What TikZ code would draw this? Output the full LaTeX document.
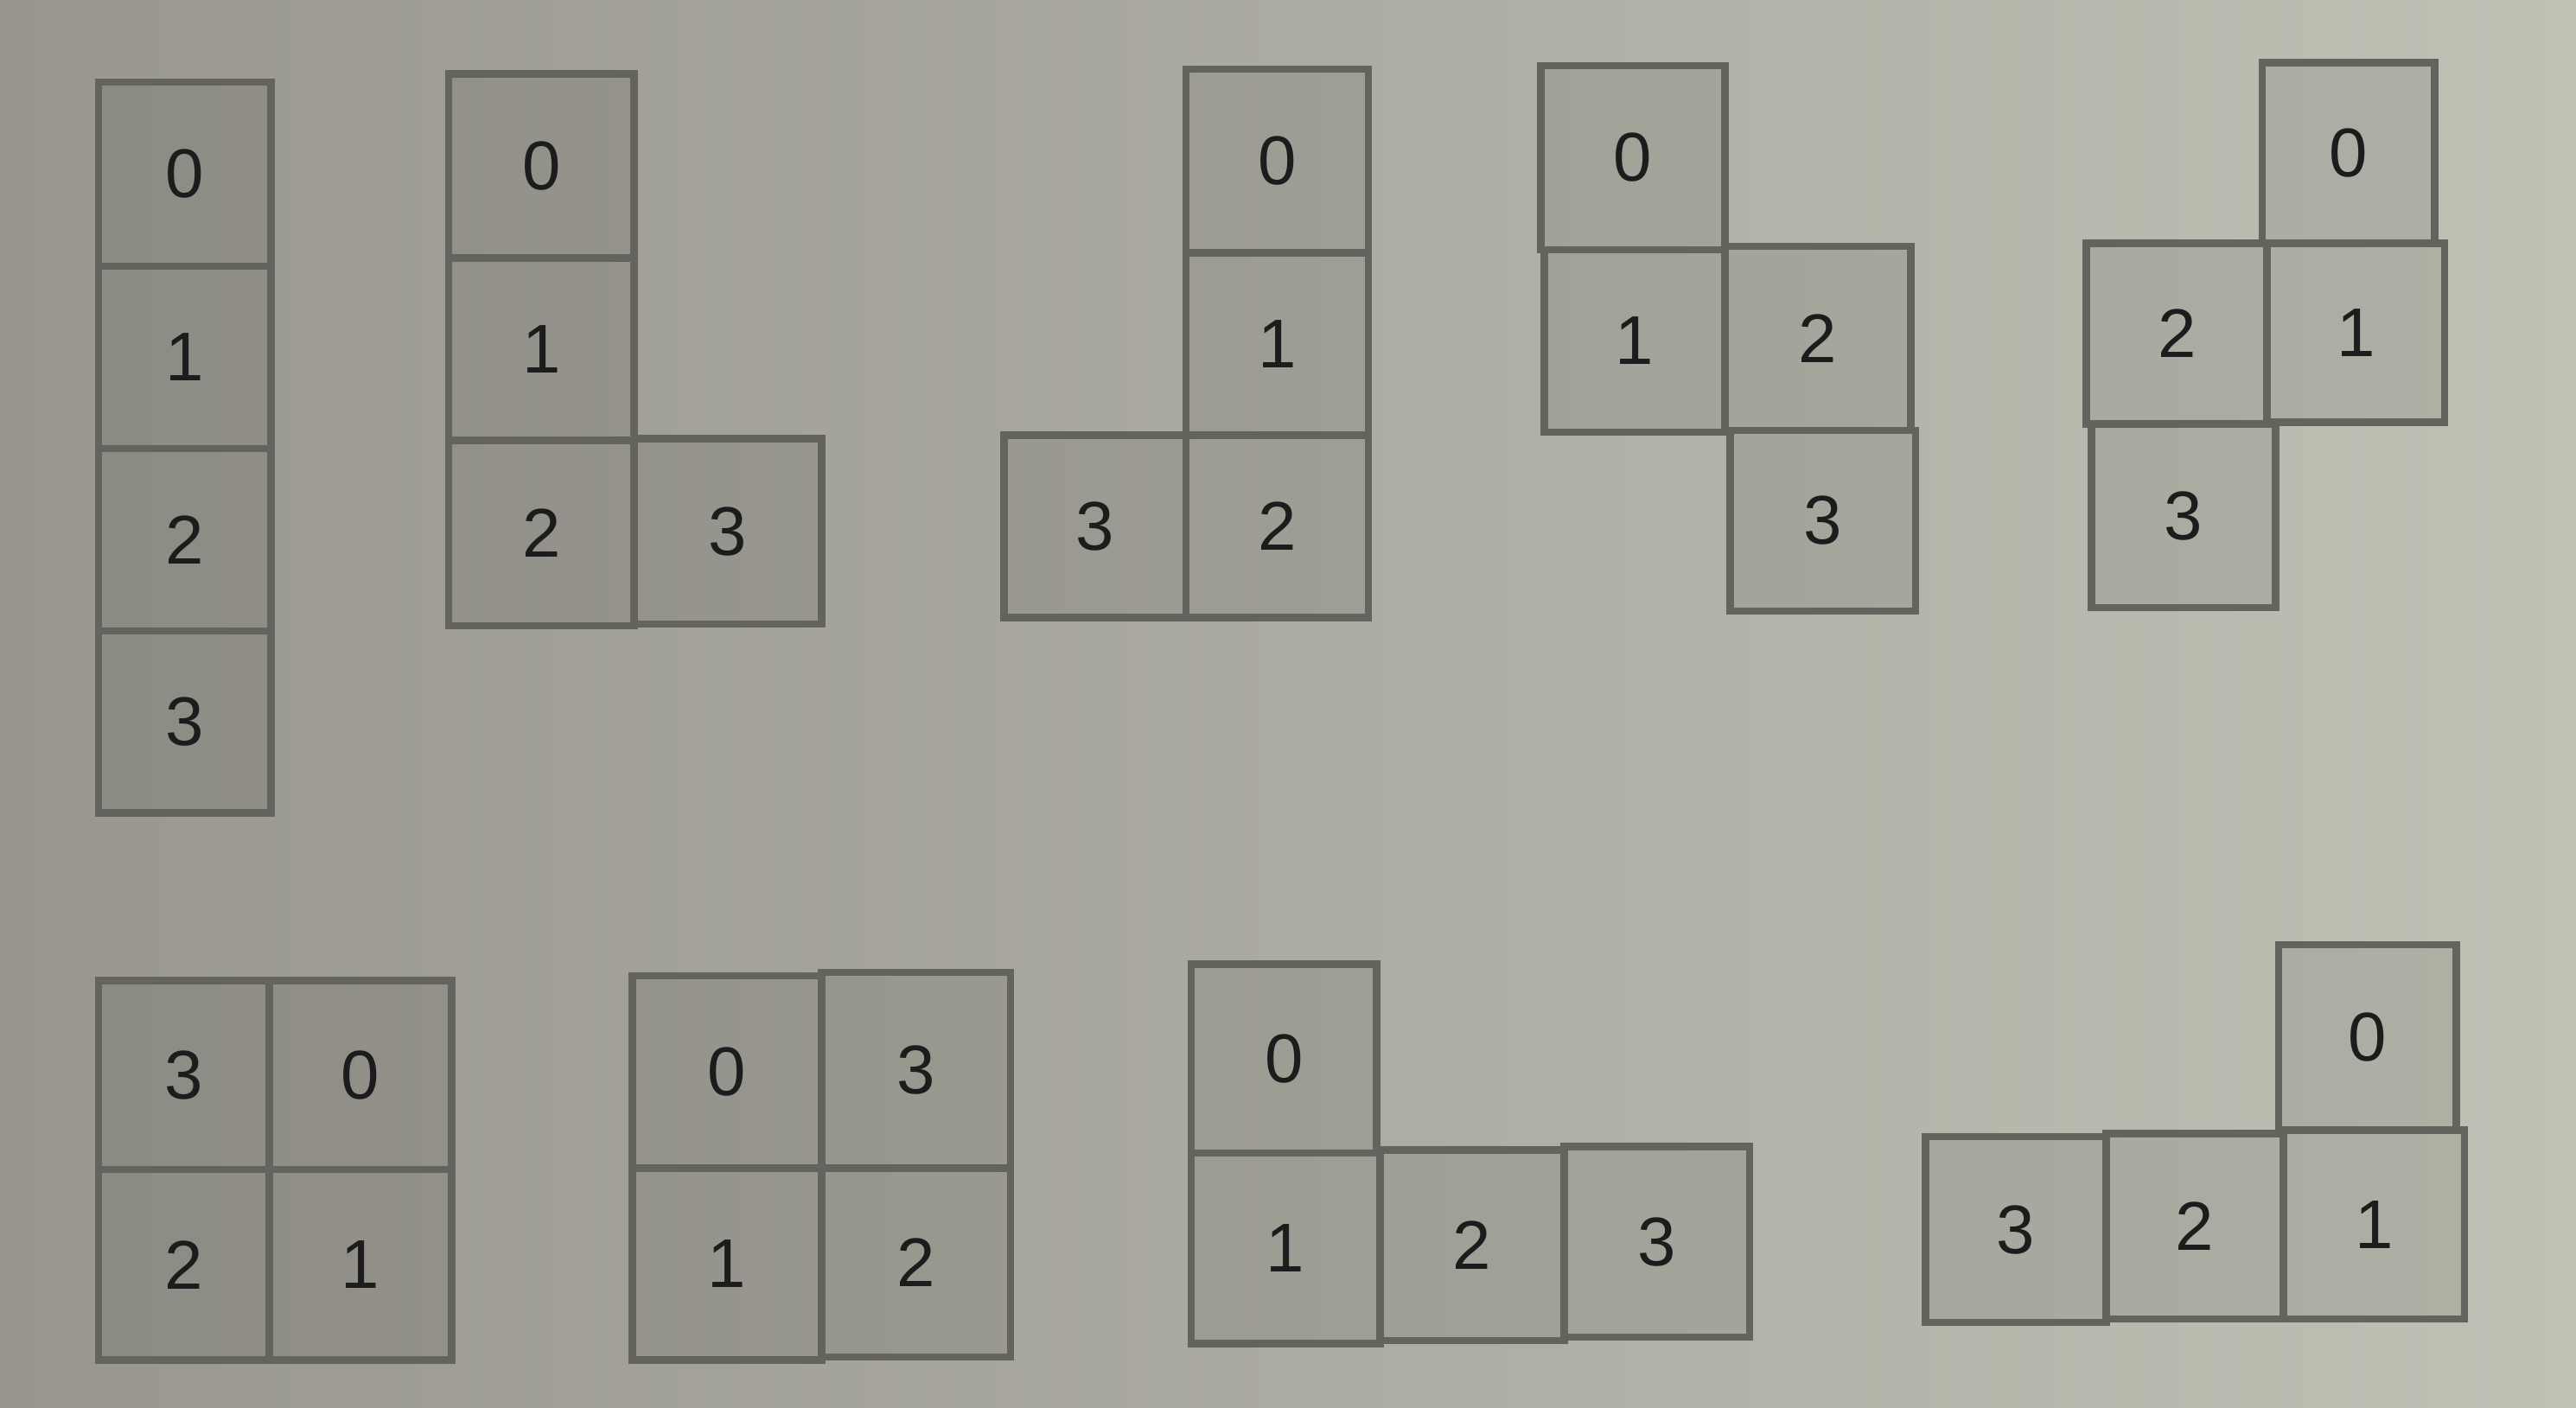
\documentclass[tikz,border=0pt]{standalone}
\usepackage{fontspec}
\setmainfont{Liberation Sans}
\definecolor{bgL}{RGB}{152,150,142}
\definecolor{bgR}{RGB}{192,192,181}
\definecolor{edge}{RGB}{100,100,95}
\definecolor{ink}{RGB}{28,28,28}
\tikzset{
  cell/.style={draw=edge, line width=4.5pt, fill=black, fill opacity=0.08,
    draw opacity=1, text opacity=1, text=ink, inner sep=0pt,
    font=\fontsize{42}{48}\selectfont}
}
\newcommand\sq[6]{\node[cell,minimum width={(#4)-(#2)},minimum height={(#5)-(#3)}] (#1) at ({((#2)+(#4))/2},{((#3)+(#5))/2}) {#6};}
\begin{document}
\begin{tikzpicture}[x=1pt,y=-1pt]
\shade[left color=bgL,right color=bgR] (0,0) rectangle (1568,857);
\useasboundingbox (0,0) rectangle (1568,857);
% shape 1
\sq{a0}{60}{50}{165}{162}{0}
\sq{a1}{60}{162}{165}{273}{1}
\sq{a2}{60}{273}{165}{384}{2}
\sq{a3}{60}{384}{165}{495}{3}
% shape 2
\sq{b0}{273}{45}{386}{157}{0}
\sq{b1}{273}{157}{386}{268}{1}
\sq{b2}{273}{268}{386}{381}{2}
\sq{b3}{386}{267}{500}{380}{3}
% shape 3
\sq{c0}{722}{42}{833}{154}{0}
\sq{c1}{722}{154}{833}{265}{1}
\sq{c2}{722}{265}{833}{376}{2}
\sq{c3}{611}{265}{722}{376}{3}
% shape 4
\sq{d0}{938}{40}{1050}{152}{0}
\sq{d1}{940}{152}{1050}{263}{1}
\sq{d2}{1050}{150}{1163}{262}{2}
\sq{d3}{1053}{262}{1166}{372}{3}
% shape 5
\sq{e0}{1377}{38}{1482}{148}{0}
\sq{e1}{1380}{148}{1488}{257}{1}
\sq{e2}{1270}{148}{1380}{258}{2}
\sq{e3}{1273}{258}{1385}{370}{3}
% shape 6
\sq{f3}{60}{597}{164}{712}{3}
\sq{f0}{164}{597}{275}{712}{0}
\sq{f2}{60}{712}{164}{828}{2}
\sq{f1}{164}{712}{275}{828}{1}
% shape 7
\sq{g0}{385}{594}{500}{711}{0}
\sq{g3}{500}{592}{615}{711}{3}
\sq{g1}{385}{711}{500}{828}{1}
\sq{g2}{500}{711}{615}{826}{2}
% shape 8
\sq{h0}{725}{587}{838}{702}{0}
\sq{h1}{725}{702}{840}{818}{1}
\sq{h2}{840}{700}{952}{816}{2}
\sq{h3}{952}{698}{1065}{814}{3}
% shape 9
\sq{i0}{1387}{575}{1495}{688}{0}
\sq{i3}{1172}{692}{1282}{805}{3}
\sq{i2}{1282}{690}{1390}{803}{2}
\sq{i1}{1390}{688}{1500}{803}{1}
\end{tikzpicture}
\end{document}
